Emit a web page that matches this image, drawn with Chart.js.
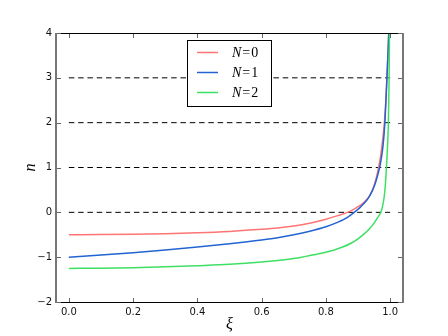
<!DOCTYPE html>
<html>
<head>
<meta charset="utf-8">
<script src="https://cdn.jsdelivr.net/npm/chart.js@4.4.0/dist/chart.umd.min.js"></script>
<style>
  html, body { margin: 0; padding: 0; background: #fff; }
  #wrap { width: 448px; height: 336px; }
</style>
</head>
<body>
<div id="wrap"><canvas id="chart" width="448" height="336"></canvas></div>
<script>
// values
const xi0 = [0, 0.1, 0.2, 0.3, 0.4, 0.5, 0.6, 0.65, 0.7, 0.75, 0.8, 0.836, 0.867, 0.885, 0.9, 0.915, 0.93, 0.94, 0.95, 0.958, 0.964, 0.969, 0.973, 0.978, 0.982, 0.987, 0.99, 0.993, 0.9957];
const n0  = [-0.5, -0.495, -0.487, -0.475, -0.455, -0.425, -0.38, -0.35, -0.305, -0.245, -0.155, -0.075, 0.0, 0.06, 0.125, 0.2, 0.31, 0.42, 0.6, 0.8, 1.0, 1.2, 1.4, 1.7, 2.0, 2.55, 3.0, 3.5, 4.0];

const xi1 = [0, 0.1, 0.2, 0.3, 0.4, 0.5, 0.6, 0.65, 0.7, 0.75, 0.8, 0.836, 0.867, 0.888, 0.905, 0.919, 0.933, 0.945, 0.953, 0.96, 0.965, 0.969, 0.974, 0.978, 0.983, 0.987, 0.99, 0.993, 0.9957];
const n1  = [-1.0, -0.95, -0.9, -0.84, -0.775, -0.7, -0.615, -0.565, -0.5, -0.42, -0.32, -0.225, -0.11, 0.0, 0.1, 0.2, 0.33, 0.49, 0.63, 0.8, 0.93, 1.06, 1.27, 1.5, 1.93, 2.5, 3.0, 3.5, 4.0];

const xi2 = [0, 0.1, 0.2, 0.3, 0.4, 0.5, 0.6, 0.65, 0.7, 0.725, 0.75, 0.775, 0.8, 0.826, 0.85, 0.878, 0.9, 0.919, 0.935, 0.95, 0.96, 0.971, 0.976, 0.981, 0.985, 0.988, 0.992, 0.9945, 0.9968, 0.998];
const n2  = [-1.25, -1.245, -1.235, -1.215, -1.19, -1.16, -1.11, -1.075, -1.03, -1.0, -0.965, -0.93, -0.89, -0.84, -0.78, -0.69, -0.59, -0.48, -0.37, -0.24, -0.13, 0.0, 0.12, 0.32, 0.6, 0.95, 1.5, 2.0, 3.0, 4.0];

const seriesNames = ['N=0', 'N=1', 'N=2'];
const seriesColors = ['#ff7474', '#2364d2', '#3ee064'];

const hLevels = [0, 1, 2, 3];
const hSpan = [0, 1];

const xTicks = [0, 0.2, 0.4, 0.6, 0.8, 1.0];
const yTicks = [-2, -1, 0, 1, 2, 3, 4];

function pts(xs, ys) {
    return xs.map((x, i) => ({ x: x, y: ys[i] }));
}

const curves = [pts(xi0, n0), pts(xi1, n1), pts(xi2, n2)];

const datasets = [];
hLevels.forEach(level => {
    datasets.push({
        label: 'h' + level,
        data: hSpan.map(x => ({ x: x, y: level })),
        borderColor: '#000',
        borderWidth: 1,
        borderDash: [5.5, 3.8],
        pointRadius: 0,
        order: 10
    });
});
curves.forEach((data, i) => {
    datasets.push({
        label: seriesNames[i],
        data: data,
        borderColor: seriesColors[i],
        borderWidth: 1.5,
        pointRadius: 0,
        cubicInterpolationMode: 'monotone',
        order: 3 - i
    });
});

// frame with inward ticks, like the matplotlib axes
const framePlugin = {
    id: 'frame',
    afterDatasetsDraw(chart) {
        const { ctx, chartArea: a, scales } = chart;
        ctx.save();
        ctx.fillStyle = '#000';
        ctx.fillRect(a.left, a.top, a.right - a.left, 1);
        ctx.fillRect(a.left, a.bottom, a.right - a.left + 1, 1);
        ctx.fillStyle = '#777';
        ctx.fillRect(a.left - 1, a.top, 2, a.bottom - a.top + 1);
        ctx.fillRect(a.right - 1, a.top, 2, a.bottom - a.top + 1);
        ctx.strokeStyle = '#666';
        ctx.lineWidth = 1;
        ctx.beginPath();
        xTicks.forEach(v => {
            const px = Math.round(scales.x.getPixelForValue(v)) + 0.5;
            ctx.moveTo(px, a.bottom); ctx.lineTo(px, a.bottom - 4);
            ctx.moveTo(px, a.top + 1); ctx.lineTo(px, a.top + 5);
        });
        yTicks.forEach(v => {
            const py = Math.round(scales.y.getPixelForValue(v)) + 0.5;
            ctx.moveTo(a.left + 1, py); ctx.lineTo(a.left + 5, py);
            ctx.moveTo(a.right - 1, py); ctx.lineTo(a.right - 5, py);
        });
        ctx.stroke();
        ctx.restore();
    }
};

// boxed legend in the upper middle of the plot
const legendPlugin = {
    id: 'boxLegend',
    afterDraw(chart) {
        const ctx = chart.ctx;
        ctx.save();
        ctx.fillStyle = '#fff';
        ctx.fillRect(187, 40, 84, 66);
        ctx.strokeStyle = '#000';
        ctx.lineWidth = 1;
        ctx.strokeRect(187.5, 40.5, 84, 66);
        ctx.textBaseline = 'middle';
        seriesNames.forEach((name, i) => {
            const y = 52.5 + i * 20;
            ctx.strokeStyle = seriesColors[i];
            ctx.lineWidth = 1.5;
            ctx.beginPath();
            ctx.moveTo(197, y); ctx.lineTo(218, y);
            ctx.stroke();
            ctx.fillStyle = '#000';
            let x = 232;
            ctx.font = 'italic 14px "Liberation Serif"';
            ctx.fillText('N', x, y + 1);
            x += ctx.measureText('N').width + 1;
            ctx.font = '14px "Liberation Serif"';
            ctx.fillText('=', x, y + 1);
            x += ctx.measureText('=').width + 1;
            ctx.fillText(name.split('=')[1], x, y + 1);
        });
        ctx.restore();
    }
};

new Chart(document.getElementById('chart'), {
    type: 'line',
    data: { datasets: datasets },
    options: {
        responsive: false,
        animation: false,
        layout: { padding: { top: 33, right: 45, left: 0, bottom: 0 } },
        plugins: {
            legend: { display: false },
            tooltip: { enabled: false }
        },
        scales: {
            x: {
                type: 'linear',
                min: -0.04,
                max: 1.04,
                afterBuildTicks: s => { s.ticks = xTicks.map(v => ({ value: v })); },
                afterFit: s => { s.height = 34; },
                grid: { display: false, drawTicks: false },
                border: { display: false },
                ticks: {
                    padding: 4,
                    color: '#111',
                    font: { family: 'DejaVu Sans', size: 10 },
                    callback: v => v.toFixed(1),
                    maxRotation: 0
                },
                title: {
                    display: true,
                    text: 'ξ',
                    color: '#000',
                    font: { family: 'Liberation Serif', size: 16, style: 'italic' },
                    padding: { top: 0, bottom: 2 }
                }
            },
            y: {
                type: 'linear',
                min: -2,
                max: 4,
                afterBuildTicks: s => { s.ticks = yTicks.map(v => ({ value: v })); },
                afterFit: s => { s.width = 56; },
                grid: { display: false, drawTicks: false },
                border: { display: false },
                ticks: {
                    padding: 4,
                    color: '#111',
                    font: { family: 'DejaVu Sans', size: 10 },
                    callback: v => (v < 0 ? '\u2212' + Math.abs(v) : String(v))
                },
                title: {
                    display: true,
                    text: 'n',
                    color: '#000',
                    font: { family: 'Liberation Serif', size: 16, style: 'italic' },
                    padding: { top: 21, bottom: 0 }
                }
            }
        }
    },
    plugins: [framePlugin, legendPlugin]
});
</script>
</body>
</html>
